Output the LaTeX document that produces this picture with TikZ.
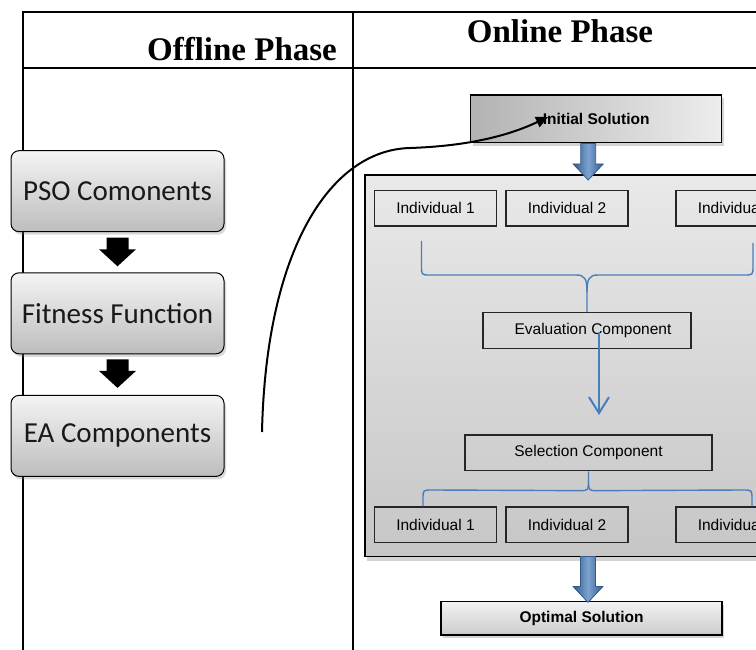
\documentclass[tikz,border=0pt]{standalone}
\usepackage{fontspec}
\setmainfont{Liberation Sans}
\newfontfamily\hdrfont{Liberation Serif}
\newfontfamily\calfont{Carlito}
\usetikzlibrary{shadows,arrows.meta,calc}
\definecolor{bluefill}{HTML}{5B8BC6}
\definecolor{blueedge}{HTML}{345A8A}
\definecolor{bracecol}{HTML}{4A7EBB}
\definecolor{boxtop}{HTML}{F4F4F4}
\definecolor{boxbot}{HTML}{BDBDBD}
\definecolor{pantop}{HTML}{E9E9E9}
\definecolor{panbot}{HTML}{C6C6C6}
\newcommand\blockarrow[6]{% style, start, tip, half shaft, half head, head length
  \path[#1] ($(#2)+(-#4,0)$) -- ($(#2)+(#4,0)$) -- ($(#3)+(#4,-#6)$) -- ($(#3)+(#5,-#6)$) -- (#3)
    -- ($(#3)+(-#5,-#6)$) -- ($(#3)+(-#4,-#6)$) -- cycle;}
\tikzset{
  tbl/.style={line width=1.7pt, black},
  hdr/.style={font=\hdrfont\bfseries\fontsize{33}{36}\selectfont, inner sep=0pt, anchor=base},
  leftbox/.style={draw=black, line width=1pt, rounded corners=8pt, top color=boxtop, bottom color=boxbot,
    minimum width=213pt, minimum height=81pt, inner sep=0pt,
    font=\calfont\fontsize{29}{33}\selectfont, text=black!90,
    drop shadow={opacity=0.3, shadow xshift=2pt, shadow yshift=-3pt}},
  panelbox/.style={draw=black, line width=1.3pt, top color=pantop, bottom color=panbot,
    minimum width=425pt, minimum height=381.7pt, inner sep=0pt,
    drop shadow={opacity=0.35, shadow xshift=2pt, shadow yshift=-4pt}},
  solbox/.style={draw=black, line width=1.5pt, inner sep=0pt,
    font=\bfseries\fontsize{15.5}{18}\selectfont,
    drop shadow={opacity=0.35, shadow xshift=2pt, shadow yshift=-3pt}},
  indbox/.style={draw=black!85, line width=1.3pt, minimum width=122pt, minimum height=35.5pt, inner sep=0pt,
    font=\fontsize{15.5}{18}\selectfont},
  compbox/.style={draw=black!85, line width=1.3pt, minimum height=35.8pt, inner sep=0pt,
    font=\fontsize{15.5}{18}\selectfont},
  blkarr/.style={fill=black},
  bluearr/.style={draw=blueedge, line width=0.8pt, left color=blueedge, right color=blueedge, middle color=bluefill!80!white},
  bracel/.style={draw=bracecol, line width=1.4pt},
  curvearr/.style={draw=black, line width=2pt, -{Triangle[width=11pt,length=12pt]}},
  evalarr/.style={draw=bracecol, line width=2pt, -{Straight Barb[width=20pt,length=16pt]}}
}
\begin{document}
\begin{tikzpicture}[x=1pt,y=-1pt]
\useasboundingbox (0,0) rectangle (756,650);
\begin{scope}
\clip (0,0) rectangle (756,650);
% table
\draw[tbl] (22.7,652) -- (22.7,12) -- (758,12);
\draw[tbl] (22.7,68) -- (758,68);
\draw[tbl] (352.7,12) -- (352.7,652);
\node[hdr] (offh) at (242,61) {Offline Phase};
\node[hdr] (onh) at (560,42.5) {Online Phase};
% left column
\node[leftbox] (pso) at (117.5,191.2) {PSO Comonents};
\node[leftbox] (fit) at (117.5,313.3) {Fitness Function};
\node[leftbox] (ea) at (117.5,435.9) {EA Components};
\coordinate (a1s) at ($(pso.south)+(0,5.5)$);
\coordinate (a1t) at ($(fit.north)+(0,-6)$);
\blockarrow{blkarr}{a1s}{a1t}{11}{18.5}{17}
\coordinate (a2s) at ($(fit.south)+(0,5)$);
\coordinate (a2t) at ($(ea.north)+(0,-7)$);
\blockarrow{blkarr}{a2s}{a2t}{11}{18.5}{17}
% panel
\node[panelbox] (pan) at (577.5,365.9) {};
% initial solution
\node[solbox, minimum width=251pt, minimum height=47.7pt, left color=black!30, right color=black!7] (init) at (596.2,118.9) {Initial Solution};
\coordinate (b1s) at ($(init.south)+(-8,0)$);
\coordinate (b1t) at ($(init.south)+(-8,36.5)$);
\blockarrow{bluearr}{b1s}{b1t}{7.5}{15}{16}
% individuals top
\node[indbox] (i1) at (435.5,208.4) {Individual 1};
\node[indbox] (i2) at (567,208.4) {Individual 2};
\node[indbox] (i3) at (737,208.4) {Individual\hspace*{12.9pt}};
% evaluation
\node[compbox, minimum width=208pt] (eval) at (587,330.7) {\hspace*{12pt}Evaluation Component};
% selection
\node[compbox, minimum width=247pt] (sel) at (588.5,452.8) {Selection Component};
% individuals bottom
\node[indbox] (j1) at (435.5,524.8) {Individual 1};
\node[indbox] (j2) at (567,524.8) {Individual 2};
\node[indbox] (j3) at (737,524.8) {Individual\hspace*{12.9pt}};
% top brace
\draw[bracel] (421.5,241) -- (421.5,266) .. controls (421.5,275) .. (430,275) -- (576,275)
  .. controls (585,275) and (587,279) .. (587,292) -- (eval.north -| 587,0);
\draw[bracel] (753,243) -- (753,266) .. controls (753,275) .. (744,275) -- (598,275)
  .. controls (589,275) and (587,279) .. (587,292);
% eval arrow
\coordinate (es) at ($(eval.center)+(12,1.5)$);
\coordinate (et) at (599,415);
\draw[evalarr] (es) -- (et);
% bottom brace
\draw[bracel] (sel.south) -- ($(sel.south)+(0,9)$) .. controls ($(sel.south)+(0,19.3)$) .. ($(sel.south)+(-9,19.3)$)
  -- (432,490) .. controls (423,490) .. (423,499) -- (j1.north -| 423,0);
\draw[bracel] ($(sel.south)+(0,9)$) .. controls ($(sel.south)+(0,19.3)$) .. ($(sel.south)+(9,19.3)$)
  -- (743,490) .. controls (752,490) .. (752,499) -- (j3.north -| 752,0);
% optimal solution
\node[solbox, minimum width=281pt, minimum height=33.3pt, top color=black!5, bottom color=black!20] (opt) at (581.5,618.3) {Optimal Solution};
\coordinate (b2s) at ($(pan.south -| 588,0)+(0,-1)$);
\coordinate (b2t) at ($(opt.north -| 588,0)+(0,1.5)$);
\blockarrow{bluearr}{b2s}{b2t}{7.5}{15}{16}
% curved connector
\coordinate (cs) at (262,432);
\coordinate (ce) at (548,117);
\draw[curvearr] (cs) .. controls (266,250) and (330,150) .. (410,148) .. controls (470,146) and (510,135) .. (ce);
\end{scope}
\end{tikzpicture}
\end{document}
